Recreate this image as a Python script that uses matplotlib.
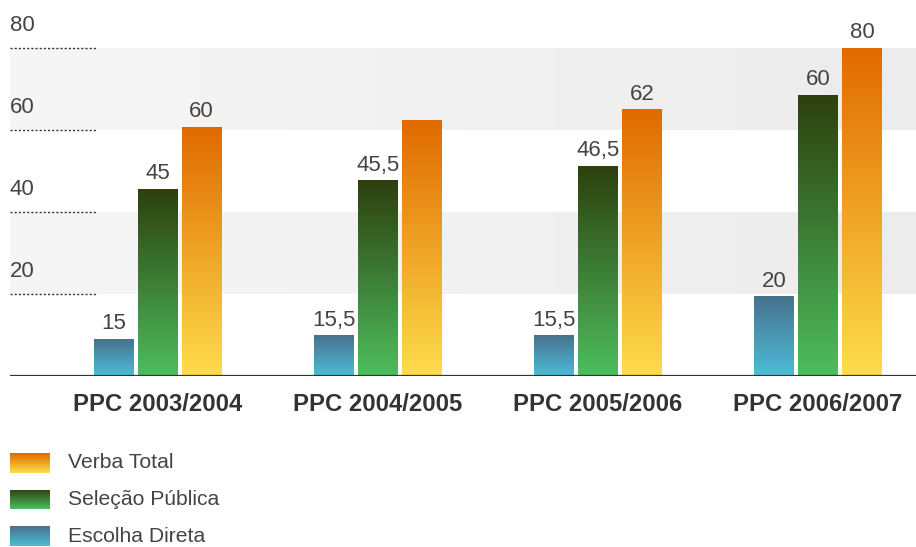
"""Verba por PPC: Escolha Direta / Seleção Pública / Verba Total, gradient bars."""
import numpy as np
import matplotlib
matplotlib.use("Agg")
import matplotlib.pyplot as plt
from matplotlib.colors import LinearSegmentedColormap

plt.rcParams["font.family"] = ["Liberation Sans", "DejaVu Sans"]

categories = ["PPC 2003/2004", "PPC 2004/2005", "PPC 2005/2006", "PPC 2006/2007"]
series = ["Escolha Direta", "Seleção Pública", "Verba Total"]
# bar heights as drawn in the picture (the source chart is not to scale)
escolha_direta = [9.0, 9.8, 9.8, 19.3]
selecao_publica = [45.6, 47.6, 51.2, 68.5]
verba_total = [60.7, 62.2, 64.9, 80.0]
# value labels printed above the bars
lbl_escolha = ["15", "15,5", "15,5", "20"]
lbl_selecao = ["45", "45,5", "46,5", "60"]
lbl_verba = ["60", "", "62", "80"]
yticks = [20, 40, 60, 80]
bands = [(20, 40), (60, 80)]

# (top colour, bottom colour) for each series
GRAD = {
    "Escolha Direta": ("#47728c", "#4dbcd8"),
    "Seleção Pública": ("#2d400e", "#4dbd5e"),
    "Verba Total": ("#e06a00", "#fedd4c"),
}
TXT = "#444444"

W, H = 916, 547
fig = plt.figure(figsize=(W / 100, H / 100), dpi=100)
ax = fig.add_axes([10 / W, (H - 376) / H, (W - 10) / W, (376 - 48) / H])
ax.set_xlim(-0.67, 3.445)
ax.set_ylim(0, 80)
ax.axis("off")

# background bands with a faint left-to-right shade
band_cmap = LinearSegmentedColormap.from_list("band", ["#f6f6f6", "#ececec"])
hgrad = np.linspace(0, 1, 256).reshape(1, -1)
for lo, hi in bands:
    ax.imshow(hgrad, extent=[-0.67, 3.445, lo, hi], aspect="auto",
              cmap=band_cmap, zorder=0)

for t in yticks:
    ax.plot([0, 0.096], [t, t], transform=ax.get_yaxis_transform(),
            color="#333333", lw=1.0, ls=(0, (1.5, 1.5)), zorder=1,
            clip_on=False)
    ax.text(0, t + 5.4, str(t), transform=ax.get_yaxis_transform(),
            ha="left", va="center", fontsize=16, color=TXT)

x = np.arange(len(categories))
bw, step = 0.18, 0.2
vgrad = np.linspace(1, 0, 256).reshape(-1, 1)
data = [(series[0], escolha_direta, lbl_escolha),
        (series[1], selecao_publica, lbl_selecao),
        (series[2], verba_total, lbl_verba)]
for i, (name, vals, lbls) in enumerate(data):
    top, bot = GRAD[name]
    cmap = LinearSegmentedColormap.from_list(name, [bot, top])
    bars = ax.bar(x + (i - 1) * step, vals, bw, color="none", zorder=2)
    for b, v, lab in zip(bars, vals, lbls):
        x0 = b.get_x()
        ax.imshow(vgrad, extent=[x0, x0 + bw, 0, v], aspect="auto",
                  cmap=cmap, vmin=0, vmax=1, origin="upper", zorder=2)
        if lab:
            ax.annotate(lab, (x0 + bw / 2, v), xytext=(0, 3.5),
                        textcoords="offset points", ha="center", va="bottom",
                        fontsize=16, color=TXT)

ax.axhline(0, color="#333333", lw=1.6, zorder=3)
for xi, cat in zip(x, categories):
    ax.text(xi, -7.0, cat, ha="center", va="center", fontsize=17.2,
            fontweight="bold", color="#333333")

ax.set_xlim(-0.67, 3.445)
ax.set_ylim(0, 80)

# legend, top to bottom: Verba Total, Seleção Pública, Escolha Direta
for k, name in enumerate(reversed(series)):
    top, bot = GRAD[name]
    cy = 463 + 36.5 * k
    lax = fig.add_axes([10 / W, (H - cy - 10) / H, 40 / W, 20 / H])
    lax.imshow(vgrad, aspect="auto", origin="upper",
               cmap=LinearSegmentedColormap.from_list("l" + name, [bot, top]))
    lax.axis("off")
    fig.text(68 / W, (H - cy) / H, name, ha="left", va="center",
             fontsize=15.2, color=TXT)

fig.savefig("out.png", dpi=100)
